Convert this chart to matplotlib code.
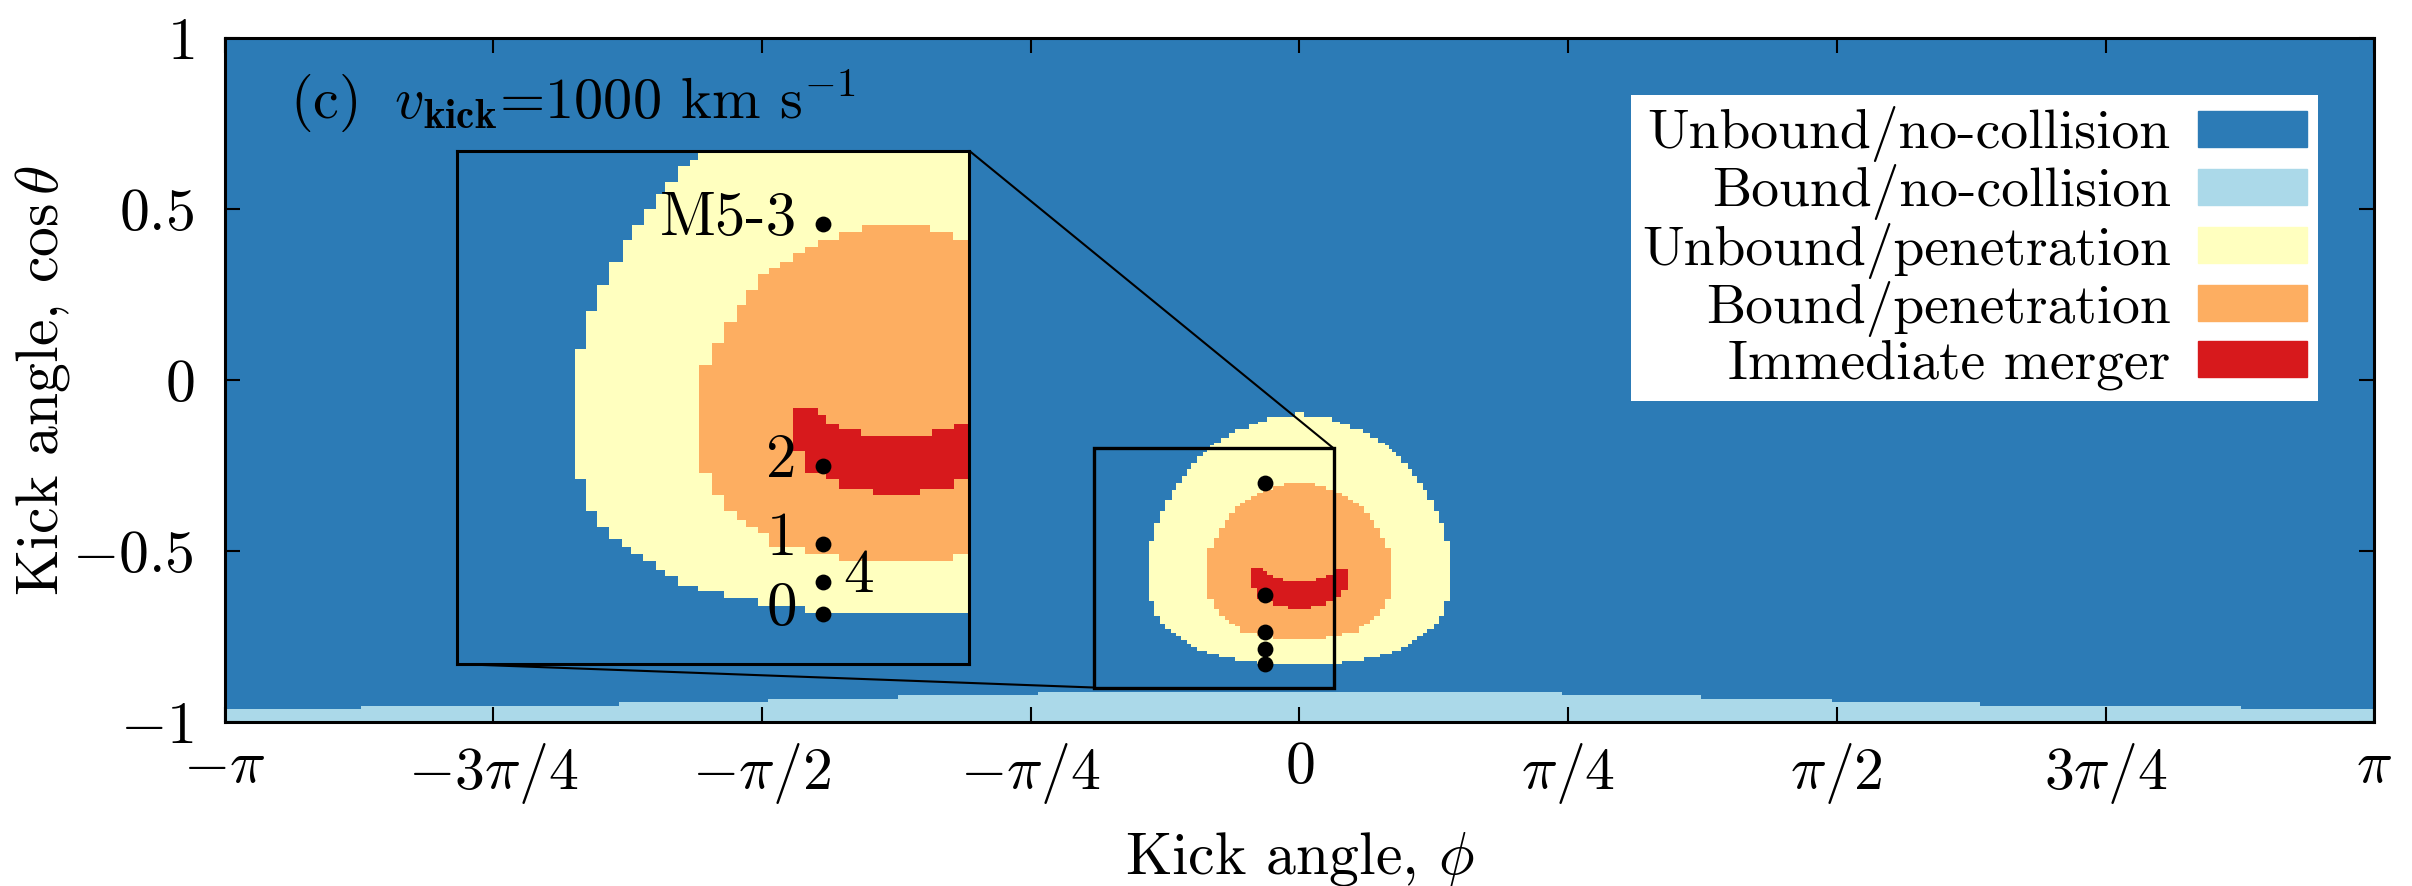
import matplotlib
matplotlib.use('Agg')
import matplotlib.pyplot as plt
import numpy as np
from matplotlib.patches import Patch
from mpl_toolkits.axes_grid1.inset_locator import mark_inset

plt.rcParams['font.family'] = 'serif'
plt.rcParams['font.serif'] = ['cmr10']
plt.rcParams['mathtext.fontset'] = 'cm'
plt.rcParams['axes.formatter.use_mathtext'] = True

# colours of the outcome classes
col_unbound_nc = '#2c7bb6'
col_bound_nc = '#abd9e9'
col_unbound_pen = '#ffffbf'
col_bound_pen = '#fdae61'
col_merger = '#d7191c'

labels = ['Unbound/no-collision', 'Bound/no-collision', 'Unbound/penetration',
          'Bound/penetration', 'Immediate merger']

# bound/no-collision strip along cos(theta) = -1 (step edges in phi, top in cos theta)
strip_phi = [-np.pi, -2.743, -1.989, -1.553, -1.173, -0.764, 0.768, 1.175, 1.556, 1.990, 2.753, np.pi]
strip_top = [-0.962, -0.953, -0.943, -0.933, -0.923, -0.914, -0.923, -0.933, -0.943, -0.953, -0.962]

# unbound/penetration blob: row edges in cos(theta), half width in phi below each edge
yellow_cos = [-0.093, -0.107, -0.122, -0.130, -0.144, -0.156, -0.171, -0.183, -0.190,
              -0.202, -0.212, -0.221, -0.242, -0.259, -0.280, -0.301, -0.322, -0.352,
              -0.383, -0.419, -0.471, -0.648, -0.691, -0.713, -0.729, -0.741, -0.750,
              -0.760, -0.772, -0.780, -0.793, -0.801, -0.810, -0.821, -0.830]
yellow_hw = [0.012, 0.095, 0.120, 0.147, 0.187, 0.205, 0.230, 0.250, 0.262,
             0.270, 0.281, 0.298, 0.316, 0.328, 0.344, 0.361, 0.373, 0.392,
             0.408, 0.424, 0.439, 0.424, 0.408, 0.392, 0.374, 0.362, 0.345,
             0.328, 0.316, 0.298, 0.270, 0.235, 0.189, 0.124]

# bound/penetration blob
orange_cos = [-0.301, -0.311, -0.322, -0.331, -0.340, -0.352, -0.360, -0.368, -0.390,
              -0.411, -0.433, -0.462, -0.492, -0.640, -0.670, -0.691, -0.703, -0.713,
              -0.721, -0.741, -0.750, -0.759]
orange_hw = [0.046, 0.078, 0.107, 0.124, 0.141, 0.158, 0.173, 0.189, 0.205,
             0.217, 0.235, 0.251, 0.269, 0.251, 0.235, 0.217, 0.205, 0.189,
             0.173, 0.124, 0.078]

# immediate merger crescent: columns in phi with top / bottom cos(theta)
red_phi = [-0.141, -0.124, -0.107, -0.095, -0.078, -0.048, -0.032, 0.033, 0.049, 0.079, 0.099, 0.121, 0.141]
red_top = [-0.551, -0.551, -0.560, -0.572, -0.580, -0.589, -0.589, -0.589, -0.580, -0.572, -0.553, -0.553]
red_bot = [-0.609, -0.640, -0.640, -0.648, -0.661, -0.661, -0.670, -0.661, -0.661, -0.648, -0.634, -0.616]

# simulated runs
run_names = ['M5-3', '2', '1', '4', '0']
run_phi = [-0.10, -0.10, -0.10, -0.10, -0.10]
run_cos = [-0.30, -0.63, -0.737, -0.788, -0.832]

xticks = [-np.pi, -3*np.pi/4, -np.pi/2, -np.pi/4, 0, np.pi/4, np.pi/2, 3*np.pi/4, np.pi]
xticklabels = [r'$-\pi$', r'$-3\pi/4$', r'$-\pi/2$', r'$-\pi/4$', r'$0$',
               r'$\pi/4$', r'$\pi/2$', r'$3\pi/4$', r'$\pi$']
yticks = [1, 0.5, 0, -0.5, -1]
yticklabels = [r'$1$', r'$0.5$', r'$0$', r'$-0.5$', r'$-1$']

zoom_phi = [-0.60, 0.10]
zoom_cos = [-0.90, -0.20]


def draw_map(a):
    a.set_facecolor(col_unbound_nc)
    a.fill_between(strip_phi, -1.0, np.append(strip_top, strip_top[-1]),
                   step='post', color=col_bound_nc, lw=0)
    yh = np.append(yellow_hw, yellow_hw[-1])
    a.fill_betweenx(yellow_cos, -yh, yh, step='post', color=col_unbound_pen, lw=0)
    oh = np.append(orange_hw, orange_hw[-1])
    a.fill_betweenx(orange_cos, -oh, oh, step='post', color=col_bound_pen, lw=0)
    a.fill_between(red_phi, np.append(red_bot, red_bot[-1]), np.append(red_top, red_top[-1]),
                   step='post', color=col_merger, lw=0)
    a.scatter(run_phi, run_cos, s=130, color='k', zorder=5, lw=0)


fig = plt.figure(figsize=(24.12, 8.86), dpi=100)
ax = fig.add_axes([0.09312, 0.18544, 0.89121, 0.77133])
draw_map(ax)
ax.set_xlim(-np.pi, np.pi)
ax.set_ylim(-1, 1)
ax.set_xticks(xticks)
ax.set_xticklabels(xticklabels)
ax.set_yticks(yticks)
ax.set_yticklabels(yticklabels)
ax.tick_params(direction='in', length=11, width=1.5, top=True, right=True, labelsize=43)
ax.tick_params(axis='x', pad=14)
ax.tick_params(axis='y', pad=22)
for s in ax.spines.values():
    s.set_linewidth(2.2)
ax.set_xlabel(r'Kick angle, $\phi$', fontsize=43)
ax.set_ylabel(r'Kick angle, $\cos\theta$', fontsize=43)
ax.xaxis.set_label_coords(0.5, -0.158)
ax.yaxis.set_label_coords(-0.071, 0.5)

ax.text(0.0305, 0.8834, r'(c) $\;v_{\mathbf{kick}}$=1000 km s$^{-1}$', transform=ax.transAxes,
        fontsize=42, ha='left', va='baseline')

handles = [Patch(color=c) for c in [col_unbound_nc, col_bound_nc, col_unbound_pen,
                                     col_bound_pen, col_merger]]
leg = ax.legend(handles, labels, loc='upper right', bbox_to_anchor=(0.9738, 0.917),
                borderaxespad=0, markerfirst=False, fontsize=40, fancybox=False,
                framealpha=1, edgecolor='white', handlelength=1.95, handleheight=0.62,
                handletextpad=0.5, labelspacing=0.04, borderpad=0.2)
leg.get_frame().set_linewidth(0)

# zoomed inset
axins = ax.inset_axes([0.1080, 0.0844, 0.2384, 0.7511])
draw_map(axins)
axins.set_xlim(zoom_phi)
axins.set_ylim(zoom_cos)
axins.set_xticks([])
axins.set_yticks([])
for s in axins.spines.values():
    s.set_linewidth(2.2)
for name, p, c in zip(run_names, run_phi, run_cos):
    if name == '4':
        axins.annotate(name, (p, c), xytext=(20, -10), textcoords='offset pixels',
                       ha='left', va='baseline', fontsize=44)
    else:
        axins.annotate(name, (p, c), xytext=(-26, -11), textcoords='offset pixels',
                       ha='right', va='baseline', fontsize=44)

box, c1, c2 = mark_inset(ax, axins, loc1=1, loc2=3, fc='none', ec='k', lw=2.4)
c1.set_linewidth(1.5)
c2.set_linewidth(1.5)

fig.savefig('out.png', dpi=100)
